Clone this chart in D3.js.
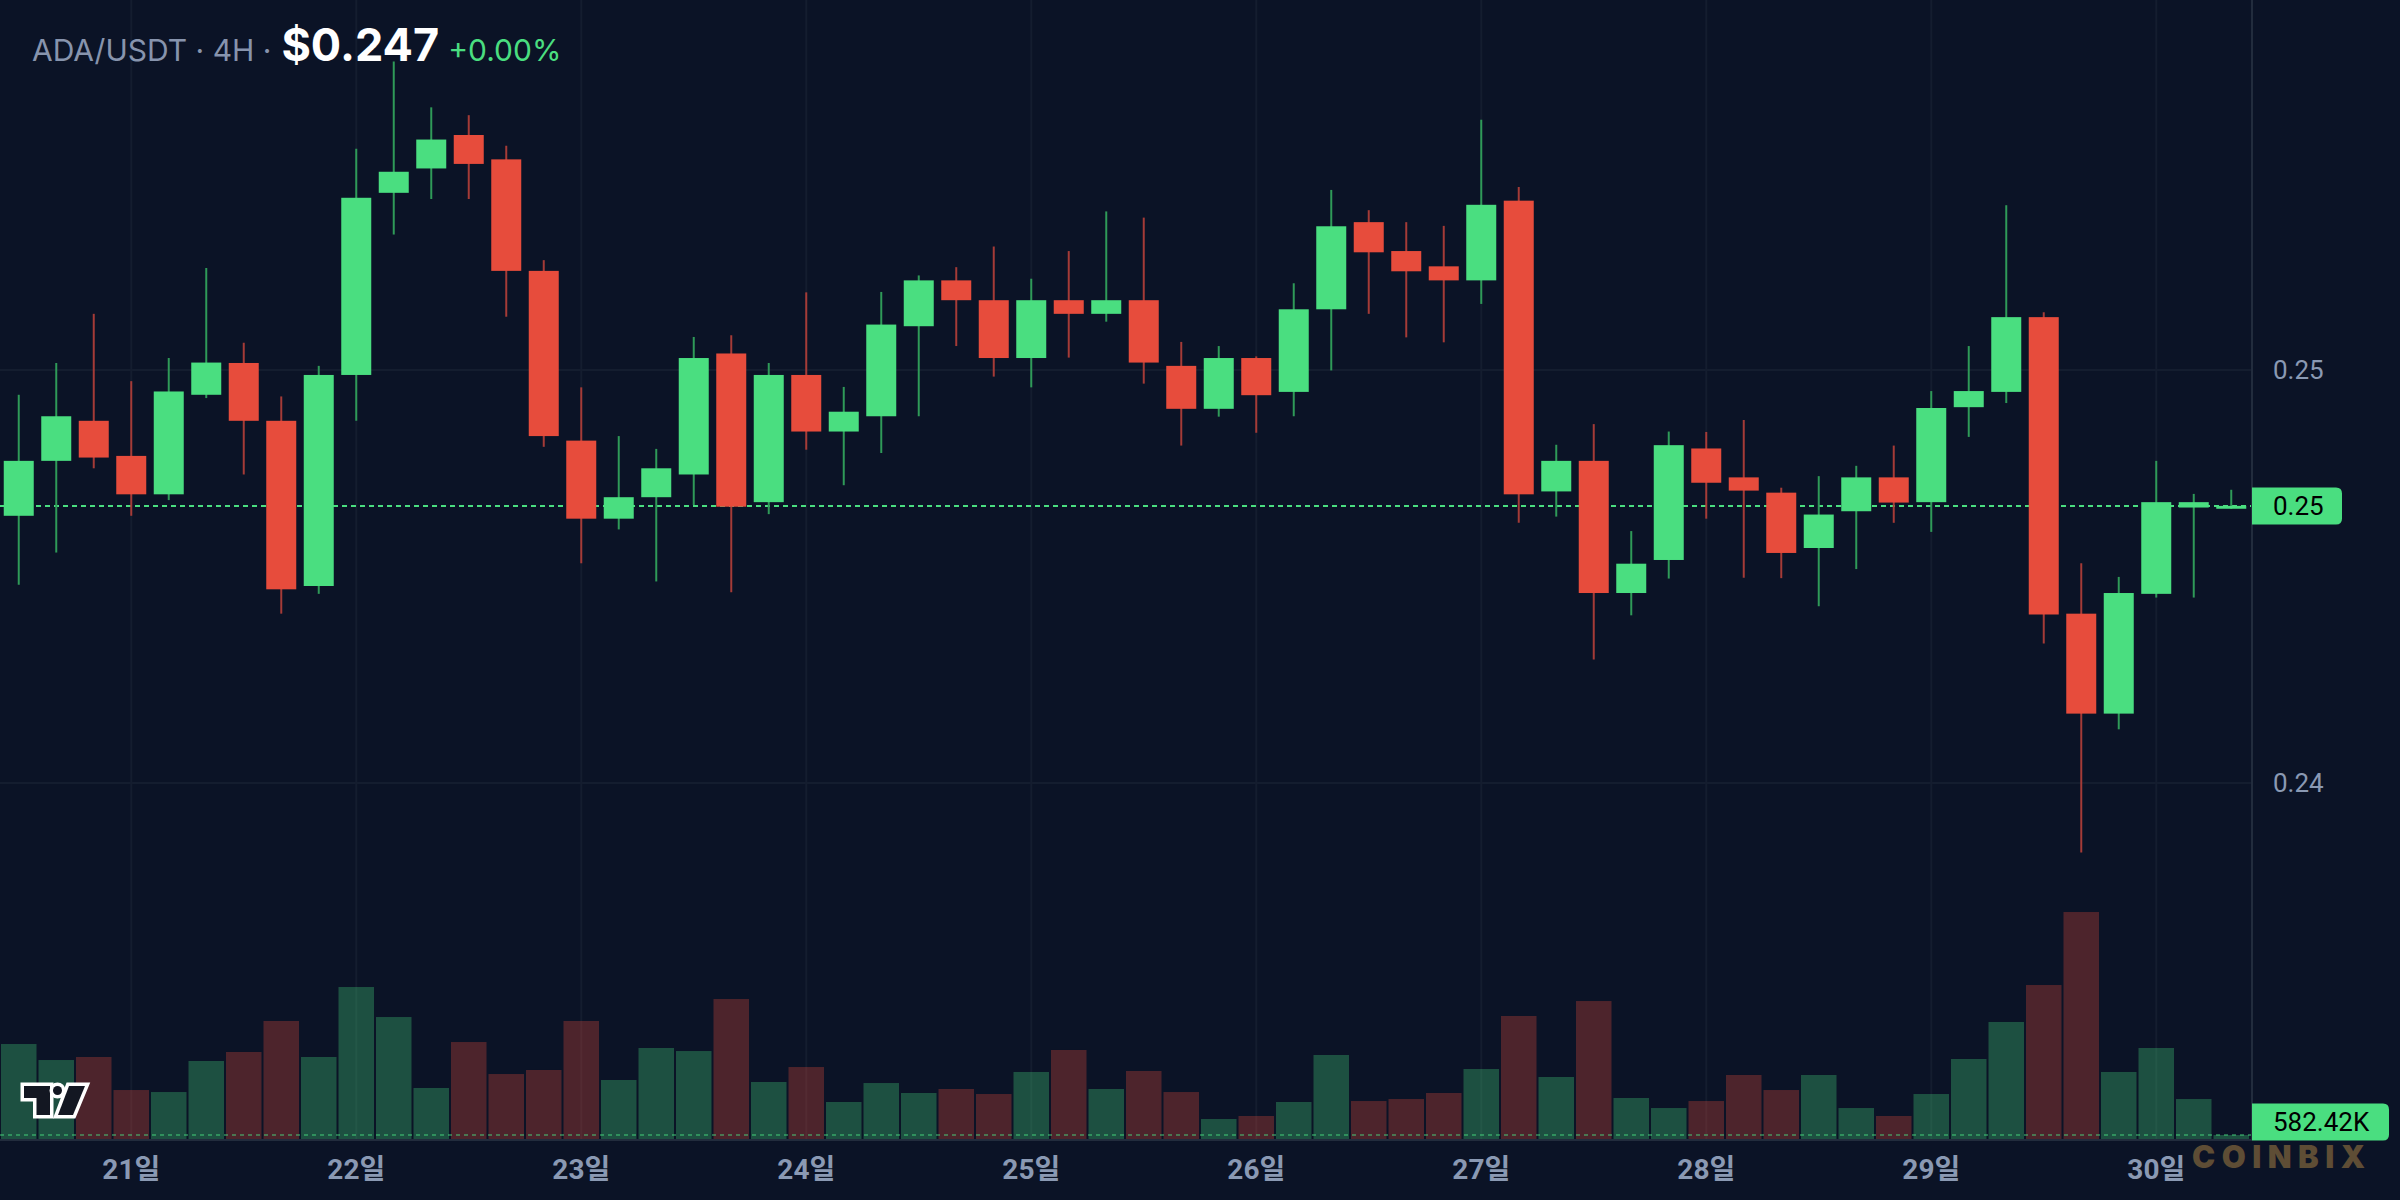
<!DOCTYPE html>
<html>
<head>
<meta charset="utf-8">
<script src="https://cdn.jsdelivr.net/npm/d3@7"></script>
<style>
  html, body { margin: 0; padding: 0; background: #0b1326; }
  svg { display: block; }
</style>
</head>
<body>
<svg id="chart" width="2400" height="1200"></svg>
<script>
// ---------------- DATA ----------------
const symbol = "ADA/USDT";
const interval = "4H";
const changeText = "+0.00%";
const firstCandleTime = new Date(2024, 0, 20, 12, 0);   // 20일 12:00, 4H candles
const dayTickLabels = ["21일", "22일", "23일", "24일", "25일", "26일", "27일", "28일", "29일", "30일"];
const priceTicks = [0.24, 0.25];

const opens = [
  0.24647, 0.24780, 0.24877, 0.24792, 0.24699, 0.24940, 0.25017, 0.24877, 0.24477, 0.24988,
  0.25429, 0.25488, 0.25569, 0.25510, 0.25240, 0.24829, 0.24640, 0.24692, 0.24747, 0.25040,
  0.24680, 0.24988, 0.24851, 0.24888, 0.25106, 0.25217, 0.25169, 0.25029, 0.25169, 0.25136,
  0.25169, 0.25010, 0.24906, 0.25029, 0.24947, 0.25147, 0.25358, 0.25288, 0.25251, 0.25217,
  0.25410, 0.24706, 0.24780, 0.24460, 0.24540, 0.24810, 0.24740, 0.24703, 0.24569, 0.24658,
  0.24740, 0.24680, 0.24910, 0.24947, 0.25128, 0.24410, 0.24168, 0.24458, 0.24667, 0.24664
];
const highs = [
  0.24940, 0.25017, 0.25136, 0.24973, 0.25029, 0.25247, 0.25066, 0.24936, 0.25010, 0.25536,
  0.25747, 0.25636, 0.25617, 0.25543, 0.25266, 0.24958, 0.24840, 0.24809, 0.25080, 0.25084,
  0.25017, 0.25188, 0.24959, 0.25189, 0.25229, 0.25249, 0.25299, 0.25221, 0.25288, 0.25384,
  0.25369, 0.25068, 0.25058, 0.25033, 0.25210, 0.25436, 0.25387, 0.25358, 0.25349, 0.25606,
  0.25443, 0.24819, 0.24869, 0.24610, 0.24851, 0.24850, 0.24879, 0.24715, 0.24743, 0.24768,
  0.24817, 0.24949, 0.25058, 0.25399, 0.25140, 0.24532, 0.24499, 0.24780, 0.24700, 0.24710
];
const lows = [
  0.24480, 0.24558, 0.24762, 0.24647, 0.24685, 0.24932, 0.24747, 0.24410, 0.24458, 0.24877,
  0.25328, 0.25414, 0.25414, 0.25129, 0.24814, 0.24532, 0.24614, 0.24488, 0.24673, 0.24462,
  0.24651, 0.24807, 0.24721, 0.24799, 0.24888, 0.25058, 0.24984, 0.24958, 0.25030, 0.25117,
  0.24967, 0.24817, 0.24887, 0.24848, 0.24888, 0.24999, 0.25136, 0.25079, 0.25067, 0.25160,
  0.24630, 0.24645, 0.24299, 0.24406, 0.24495, 0.24640, 0.24497, 0.24496, 0.24428, 0.24518,
  0.24630, 0.24608, 0.24838, 0.24920, 0.24338, 0.23832, 0.24130, 0.24449, 0.24449, 0.24664
];
const closes = [
  0.24780, 0.24888, 0.24788, 0.24699, 0.24948, 0.25018, 0.24877, 0.24469, 0.24988, 0.25417,
  0.25480, 0.25558, 0.25499, 0.25240, 0.24840, 0.24640, 0.24692, 0.24762, 0.25029, 0.24669,
  0.24988, 0.24851, 0.24899, 0.25110, 0.25217, 0.25169, 0.25029, 0.25169, 0.25136, 0.25169,
  0.25018, 0.24906, 0.25029, 0.24939, 0.25147, 0.25348, 0.25285, 0.25239, 0.25217, 0.25400,
  0.24699, 0.24780, 0.24460, 0.24531, 0.24818, 0.24727, 0.24708, 0.24557, 0.24650, 0.24740,
  0.24679, 0.24908, 0.24949, 0.25128, 0.24408, 0.24168, 0.24460, 0.24680, 0.24680, 0.24671
];
// volume in thousands (K)
const volumes = [
  13830, 11500, 11940, 7130, 6840, 11360, 12670, 17180, 11940, 22130,
  17760, 7430, 14120, 9460, 10050, 17180, 8590, 13250, 12810, 20380,
  8300, 10480, 5390, 8150, 6700, 7280, 6550, 9760, 12960, 7280,
  9900, 6840, 2910, 3350, 5390, 12230, 5530, 5820, 6700, 10190,
  17910, 9030, 20090, 5970, 4510, 5530, 9320, 7130, 9320, 4510,
  3350, 6550, 11650, 17040, 22420, 33050, 9760, 13250, 5820, 582.42
];

// ---------------- STYLE ----------------
const W = 2400, H = 1200;
const plotRight = 2252, plotBottom = 1139;
const C = {
  bg: "#0b1326", grid: "#141d2f", border: "#222c3d",
  up: "#4ade80", down: "#e74c3c",
  upWick: "#2f9a58", downWick: "#a53b37",
  upVol: "rgba(74,222,128,0.30)", downVol: "rgba(231,76,60,0.30)",
  axisText: "#8a99b3", header: "#8794ad", mark: "#5e4d35"
};
const axisFont = "Roboto, 'Noto Sans CJK KR', sans-serif";
const headFont = "Inter, Roboto, sans-serif";

const svg = d3.select("#chart");
svg.append("rect").attr("width", W).attr("height", H).attr("fill", C.bg);

const times = opens.map((_, i) => d3.timeHour.offset(firstCandleTime, 4 * i));
const candles = times.map((t, i) => ({
  t, o: opens[i], h: highs[i], l: lows[i], c: closes[i], v: volumes[i], up: closes[i] >= opens[i]
}));
const midnights = times.filter(t => t.getHours() === 0);

const x = d3.scaleBand().domain(times).range([0, 2250]).paddingInner(0.2).paddingOuter(0.1);
const xc = t => x(t) + x.bandwidth() / 2;
const step = x.step();
const y = d3.scaleLinear().domain([0.24, 0.25]).range([783, 370]);
const yVol = d3.scaleLinear().domain([0, 40000]).range([plotBottom, plotBottom - 40000 / 145.6]);

// ---------------- GRID ----------------
const grid = svg.append("g");
grid.selectAll("line.h").data(priceTicks).join("line")
  .attr("x1", 0).attr("x2", plotRight)
  .attr("y1", d => y(d)).attr("y2", d => y(d))
  .attr("stroke", C.grid).attr("stroke-width", 2);
grid.selectAll("line.v").data(midnights).join("line")
  .attr("x1", d => xc(d)).attr("x2", d => xc(d))
  .attr("y1", 0).attr("y2", plotBottom)
  .attr("stroke", C.grid).attr("stroke-width", 2);

// ---------------- VOLUME ----------------
const volW = step - 2;
svg.append("g").selectAll("rect").data(candles).join("rect")
  .attr("x", d => xc(d.t) - volW / 2)
  .attr("width", volW)
  .attr("y", d => yVol(d.v))
  .attr("height", d => plotBottom - yVol(d.v))
  .attr("fill", d => d.up ? C.upVol : C.downVol);

const lastC = candles[candles.length - 1];
svg.append("line")
  .attr("x1", 0).attr("x2", plotRight)
  .attr("y1", yVol(lastC.v)).attr("y2", yVol(lastC.v))
  .attr("stroke", C.up).attr("stroke-opacity", 0.45)
  .attr("stroke-width", 2).attr("stroke-dasharray", "4,4");

// last price line
svg.append("line")
  .attr("x1", 0).attr("x2", plotRight)
  .attr("y1", y(lastC.c)).attr("y2", y(lastC.c))
  .attr("stroke", C.up).attr("stroke-width", 2).attr("stroke-dasharray", "5,4");

// ---------------- CANDLES ----------------
const cg = svg.append("g");
cg.selectAll("line").data(candles).join("line")
  .attr("x1", d => xc(d.t)).attr("x2", d => xc(d.t))
  .attr("y1", d => y(d.h)).attr("y2", d => y(d.l))
  .attr("stroke", d => d.up ? C.upWick : C.downWick)
  .attr("stroke-width", 2);
cg.selectAll("rect").data(candles).join("rect")
  .attr("x", d => x(d.t))
  .attr("width", x.bandwidth())
  .attr("y", d => y(Math.max(d.o, d.c)))
  .attr("height", d => Math.max(2, Math.abs(y(d.o) - y(d.c))))
  .attr("fill", d => d.up ? C.up : C.down);

// ---------------- BORDERS ----------------
svg.append("line").attr("x1", plotRight).attr("x2", plotRight).attr("y1", 0).attr("y2", plotBottom + 1)
  .attr("stroke", C.border).attr("stroke-width", 2);
svg.append("line").attr("x1", 0).attr("x2", plotRight).attr("y1", plotBottom + 1).attr("y2", plotBottom + 1)
  .attr("stroke", C.border).attr("stroke-width", 2);

// ---------------- AXES ----------------
const xAxis = svg.append("g").attr("transform", `translate(0,${plotBottom + 1})`)
  .call(d3.axisBottom(x).tickValues(midnights).tickFormat((d, i) => dayTickLabels[i]).tickSize(0).tickPadding(0));
xAxis.select(".domain").remove();
xAxis.selectAll("text")
  .attr("y", 39).attr("dy", null)
  .attr("fill", C.axisText)
  .style("font-family", axisFont).style("font-size", "28px").style("font-weight", 700);

const yAxis = svg.append("g").attr("transform", `translate(${plotRight},0)`)
  .call(d3.axisRight(y).tickValues(priceTicks).tickFormat(d3.format(".2f")).tickSize(0).tickPadding(21));
yAxis.select(".domain").remove();
yAxis.selectAll("text")
  .attr("fill", C.axisText)
  .style("font-family", axisFont).style("font-size", "26px");

// label boxes on the price scale
function sideLabel(yCenter, h, w, text) {
  const x0 = plotRight, r = 6, top = yCenter - h / 2;
  const p = `M${x0},${top} H${x0 + w - r} Q${x0 + w},${top} ${x0 + w},${top + r} V${top + h - r} Q${x0 + w},${top + h} ${x0 + w - r},${top + h} H${x0} Z`;
  svg.append("path").attr("d", p).attr("fill", C.up);
  svg.append("text").attr("x", x0 + 21).attr("y", yCenter).attr("dy", "0.35em")
    .attr("fill", "#000").style("font-family", axisFont).style("font-size", "26px").text(text);
}
sideLabel(y(lastC.c), 37, 90, d3.format(".2f")(lastC.c));
sideLabel(yVol(lastC.v) - 13, 37, 137, d3.format(".2f")(lastC.v) + "K");

// ---------------- HEADER ----------------
const head = svg.append("g");
const t1 = head.append("text").attr("x", 32).attr("y", 61)
  .attr("fill", C.header).style("font-family", headFont).style("font-size", "30px")
  .text(`${symbol} · ${interval} ·`);
const t2 = head.append("text").attr("y", 61)
  .attr("fill", "#ffffff").style("font-family", headFont).style("font-size", "45px").style("font-weight", 700)
  .text("$" + d3.format(".3f")(lastC.c));
const t3 = head.append("text").attr("y", 61)
  .attr("fill", C.up).style("font-family", headFont).style("font-size", "30px")
  .text(changeText);
function layoutHeader() {
  const e1 = 32 + t1.node().getComputedTextLength();
  t2.attr("x", e1 + 10);
  const e2 = e1 + 10 + t2.node().getComputedTextLength();
  t3.attr("x", e2 + 9);
}
layoutHeader();
if (document.fonts) document.fonts.ready.then(layoutHeader);

// ---------------- LOGO ----------------
const logo = svg.append("g").attr("transform", "translate(24,1086)")
  .attr("fill", "#131722").attr("stroke", "#ffffff").attr("stroke-width", 7)
  .attr("stroke-linejoin", "miter").style("paint-order", "stroke");
logo.append("path").attr("d", "M0,0 H26 V29 H12.5 V12 H0 Z");
logo.append("circle").attr("cx", 33.5).attr("cy", 4.5).attr("r", 4.5);
logo.append("path").attr("d", "M45,0 H61 L49,29 H34 Z");

// ---------------- WATERMARK ----------------
svg.append("text").attr("x", 2192).attr("y", 1168)
  .attr("fill", C.mark).style("font-family", headFont).style("font-size", "31px")
  .style("font-weight", 900).style("letter-spacing", "6.5px")
  .text("COINBIX");
</script>
</body>
</html>
